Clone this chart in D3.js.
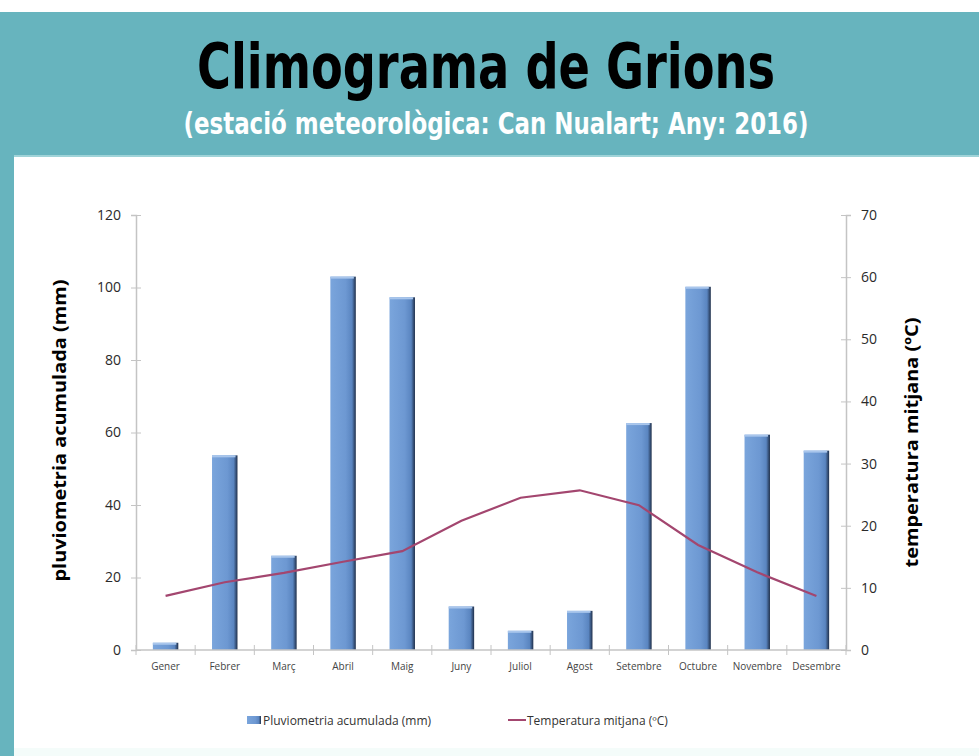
<!DOCTYPE html>
<html>
<head>
<meta charset="utf-8">
<script src="https://cdn.jsdelivr.net/npm/d3@7"></script>
<style>
  body { margin: 0; background: #fff; }
  svg { display: block; }
</style>
</head>
<body>
<svg id="svg" width="979" height="756"></svg>
<script>
// chart data
var months = ["Gener", "Febrer", "Març", "Abril", "Maig", "Juny", "Juliol", "Agost", "Setembre", "Octubre", "Novembre", "Desembre"];
var rain = [2, 53.7, 26, 103, 97.3, 12, 5.3, 10.8, 62.6, 100.2, 59.4, 55];
var temp = [8.7, 10.9, 12.4, 14.2, 15.9, 20.8, 24.5, 25.7, 23.3, 16.9, 12.5, 8.7];
var rainTicks = [0, 20, 40, 60, 80, 100, 120];
var tempTicks = [0, 10, 20, 30, 40, 50, 60, 70];

var svg = d3.select("#svg"),
    width = 979,
    height = 756;

var teal = "#67b4be";
var narrow = "'Liberation Sans Narrow', 'DejaVu Sans Condensed', 'Open Sans', sans-serif";

// header + frame
svg.append("rect").attr("x", 0).attr("y", 12).attr("width", width).attr("height", 143).attr("fill", teal);
svg.append("rect").attr("x", 0).attr("y", 155).attr("width", 14).attr("height", height - 155).attr("fill", teal);
svg.append("rect").attr("x", 14).attr("y", 155).attr("width", width - 14).attr("height", 2).attr("fill", "#9fd3d8");
svg.append("rect").attr("x", 14).attr("y", 748).attr("width", width - 14).attr("height", 8).attr("fill", "#f4fcfa");

svg.append("text")
    .attr("x", 486).attr("y", 88)
    .attr("text-anchor", "middle")
    .attr("font-family", narrow)
    .attr("font-stretch", "condensed")
    .attr("font-weight", "bold")
    .attr("font-size", 62)
    .attr("textLength", 578).attr("lengthAdjust", "spacingAndGlyphs")
    .attr("fill", "#000")
    .text("Climograma de Grions");

svg.append("text")
    .attr("x", 496).attr("y", 134)
    .attr("text-anchor", "middle")
    .attr("font-family", narrow)
    .attr("font-stretch", "condensed")
    .attr("font-weight", "bold")
    .attr("font-size", 30)
    .attr("textLength", 625).attr("lengthAdjust", "spacingAndGlyphs")
    .attr("fill", "#fff")
    .text("(estació meteorològica: Can Nualart; Any: 2016)");

// plot area
var x0 = 136, x1 = 846, yTop = 215, yBot = 650;

var x = d3.scaleBand().domain(months).range([x0, x1]).paddingInner(0.57).paddingOuter(0.285);
var xc = d3.scaleBand().domain(months).range([x0, x1]); // category slots
var yL = d3.scaleLinear().domain([0, 120]).range([yBot, yTop]);
var yR = d3.scaleLinear().domain([0, 70]).range([yBot, yTop]);

var defs = svg.append("defs");
var grad = defs.append("linearGradient").attr("id", "barGrad").attr("x1", 0).attr("x2", 1).attr("y1", 0).attr("y2", 0);
grad.append("stop").attr("offset", "0%").attr("stop-color", "#7aa5dc");
grad.append("stop").attr("offset", "60%").attr("stop-color", "#6d98d2");
grad.append("stop").attr("offset", "85%").attr("stop-color", "#5a85c0");
grad.append("stop").attr("offset", "100%").attr("stop-color", "#1f2f4a");

var axisColor = "#c4c4c4";

// left axis
var leftAxis = svg.append("g").attr("transform", "translate(" + x0 + ",0)")
    .call(d3.axisLeft(yL).tickValues(rainTicks).tickSize(5).tickPadding(10));
leftAxis.selectAll(".tick line").attr("x2", 5).attr("x1", -5);
// right axis
var rightAxis = svg.append("g").attr("transform", "translate(" + x1 + ",0)")
    .call(d3.axisRight(yR).tickValues(tempTicks).tickSize(5).tickPadding(10));
rightAxis.selectAll(".tick line").attr("x1", -5).attr("x2", 5);

[leftAxis, rightAxis].forEach(function(a) {
  a.select(".domain").attr("stroke", axisColor).attr("stroke-width", 1.5);
  a.selectAll(".tick line").attr("stroke", axisColor);
  a.selectAll("text")
    .attr("font-family", "'Open Sans', sans-serif")
    .attr("font-size", 14)
    .attr("fill", "#2a2a2a");
});

// bars
svg.append("g").selectAll("rect")
    .data(rain)
    .enter().append("rect")
    .attr("x", function(d, i) { return x(months[i]); })
    .attr("y", function(d) { return yL(d); })
    .attr("width", x.bandwidth())
    .attr("height", function(d) { return yBot - yL(d); })
    .attr("fill", "url(#barGrad)");
svg.append("g").selectAll("rect")
    .data(rain)
    .enter().append("rect")
    .attr("x", function(d, i) { return x(months[i]); })
    .attr("y", function(d) { return yL(d); })
    .attr("width", x.bandwidth() - 2)
    .attr("height", 2)
    .attr("fill", "#a9c6ec");

// x axis
var bottomAxis = svg.append("g").attr("transform", "translate(0," + yBot + ")");
bottomAxis.append("line").attr("x1", x0).attr("x2", x1).attr("stroke", axisColor).attr("stroke-width", 1.5);
bottomAxis.selectAll("line.tk")
    .data(d3.range(months.length + 1))
    .enter().append("line").attr("class", "tk")
    .attr("x1", function(i) { return x0 + i * xc.step(); })
    .attr("x2", function(i) { return x0 + i * xc.step(); })
    .attr("y1", -5).attr("y2", 5)
    .attr("stroke", axisColor);
bottomAxis.selectAll("text")
    .data(months)
    .enter().append("text")
    .attr("x", function(d) { return xc(d) + xc.bandwidth() / 2; })
    .attr("y", 20)
    .attr("text-anchor", "middle")
    .attr("font-family", "'Open Sans', sans-serif")
    .attr("font-size", 10)
    .attr("fill", "#444")
    .text(function(d) { return d; });

// temperature line
var line = d3.line()
    .x(function(d, i) { return xc(months[i]) + xc.bandwidth() / 2; })
    .y(function(d) { return yR(d); });
svg.append("path")
    .datum(temp)
    .attr("d", line)
    .attr("fill", "none")
    .attr("stroke", "#a3466f")
    .attr("stroke-width", 2.2);

// axis titles
svg.append("text")
    .attr("transform", "translate(66," + ((yTop + yBot) / 2 - 2) + ") rotate(-90)")
    .attr("text-anchor", "middle")
    .attr("font-family", "'Open Sans', sans-serif")
    .attr("font-weight", "bold")
    .attr("font-size", 17)
    .attr("textLength", 302).attr("lengthAdjust", "spacingAndGlyphs")
    .attr("fill", "#000")
    .text("pluviometria acumulada (mm)");
svg.append("text")
    .attr("transform", "translate(918," + ((yTop + yBot) / 2 + 10) + ") rotate(-90)")
    .attr("text-anchor", "middle")
    .attr("font-family", "'Open Sans', sans-serif")
    .attr("font-weight", "bold")
    .attr("font-size", 17)
    .attr("textLength", 250).attr("lengthAdjust", "spacingAndGlyphs")
    .attr("fill", "#000")
    .text("temperatura mitjana (ºC)");

// legend
var legend = svg.append("g").attr("font-family", "'Open Sans', sans-serif").attr("font-size", 12).attr("fill", "#333");
legend.append("rect").attr("x", 247).attr("y", 716).attr("width", 14).attr("height", 8).attr("fill", "url(#barGrad)");
legend.append("text").attr("x", 263).attr("y", 725).text("Pluviometria acumulada (mm)");
legend.append("line").attr("x1", 508).attr("x2", 526).attr("y1", 720).attr("y2", 720).attr("stroke", "#a3466f").attr("stroke-width", 2);
legend.append("text").attr("x", 527).attr("y", 725).text("Temperatura mitjana (ºC)");
</script>
</body>
</html>
